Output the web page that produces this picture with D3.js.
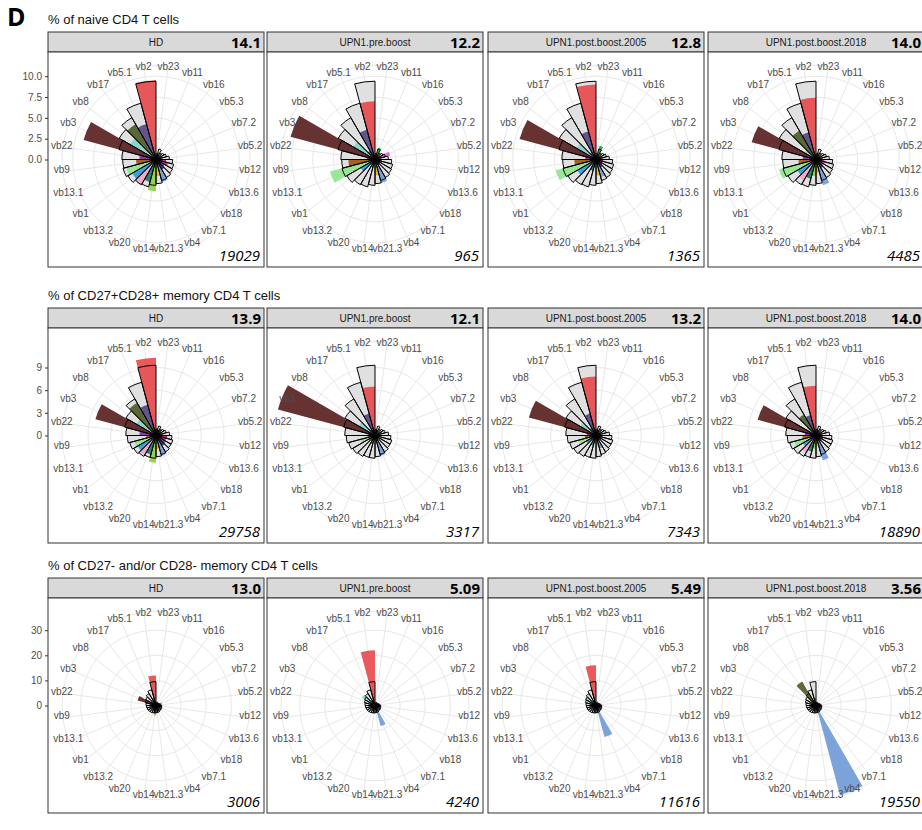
<html>
<head>
<title>TCR vb repertoire polar plots</title>
<style>
  body { margin: 0; background: #fff; }
  svg { display: block; }
</style>
</head>
<body>
<script src="https://d3js.org/d3.v7.min.js"></script>
<svg></svg>
<script>

// categories, clockwise from 12 o'clock
const cats = ["vb23","vb11","vb16","vb5.3","vb7.2","vb5.2","vb12","vb13.6","vb18","vb7.1","vb4","vb21.3",
              "vb14","vb20","vb13.2","vb1","vb13.1","vb9","vb22","vb3","vb8","vb17","vb5.1","vb2"];

const samples = ["HD","UPN1.pre.boost","UPN1.post.boost.2005","UPN1.post.boost.2018"];
const rowTitles = ["% of naive CD4 T cells","% of CD27+CD28+ memory CD4 T cells","% of CD27- and/or CD28- memory CD4 T cells"];

// row 1 : naive
const naiveRef  = [0.7,1.3,0.9,1.1,1.3,1.6,2.0,2.2,2.3,2.5,2.6,2.9,3.1,3.4,3.5,3.9,4.1,4.0,4.1,4.6,5.1,5.8,7.0,9.4];
const naiveHD   = [0.5,0.9,0.4,0.6,0.8,0.7,1.2,1.5,1.2,1.4,2.8,2.0,3.8,2.8,3.6,3.3,3.7,2.4,2.0,9.0,3.6,4.9,4.4,9.5];
const naivePre  = [0.4,1.5,0.3,0.5,1.9,0.6,0.8,0.9,0.7,0.8,2.9,1.9,0.6,1.0,0.5,2.0,5.6,3.2,1.0,10.5,3.0,1.2,3.7,7.0];
const naive2005 = [0.5,1.7,0.4,0.5,0.7,0.9,0.9,0.8,0.9,1.1,2.2,1.9,1.0,1.4,1.0,2.6,5.0,2.6,1.3,9.5,2.7,1.0,3.5,9.0];
const naive2018 = [0.4,0.9,0.5,0.6,0.5,0.8,1.0,1.1,1.0,1.2,3.2,1.6,2.0,2.4,2.9,2.6,4.6,2.1,1.6,8.0,1.6,4.0,3.4,7.4];

// row 2 : CD27+CD28+ memory
const dpRef  = [0.8,1.3,1.0,1.2,1.4,1.8,2.1,2.3,2.3,2.5,2.6,2.8,3.0,3.0,3.2,3.4,3.6,3.8,4.0,4.3,4.6,5.6,7.3,9.3];
const dpHD   = [1.0,0.8,0.9,0.7,0.8,1.0,1.5,1.4,1.5,1.6,2.8,1.8,3.6,2.6,3.0,2.8,3.0,1.3,2.2,8.3,3.0,5.0,4.2,10.3];
const dpPre  = [0.4,0.8,0.3,0.4,1.0,0.5,0.6,0.6,0.6,0.6,2.8,1.2,0.4,1.2,0.5,1.0,2.0,1.0,1.0,13.3,2.5,1.0,3.0,6.5];
const dp2005 = [0.5,0.8,0.4,0.5,0.7,0.7,0.8,0.7,0.8,0.7,1.8,1.4,0.8,1.4,0.8,1.5,2.4,1.5,1.2,9.2,2.4,1.2,3.0,7.8];
const dp2018 = [0.5,0.7,0.5,0.5,0.6,0.8,0.9,1.0,0.9,1.0,3.4,1.4,1.8,2.2,2.6,2.0,3.0,1.8,1.5,8.0,1.5,3.2,2.8,6.6];

// row 3 : CD27- and/or CD28- memory
const dnRef  = [0.9,1.4,1.1,1.3,1.6,2.0,2.3,2.4,2.5,2.6,2.8,2.9,3.0,3.1,3.3,3.5,3.6,3.8,4.0,4.4,4.8,5.5,6.5,9.5];
const dnHD   = [0.8,1.0,0.6,0.8,2.5,1.0,1.2,1.5,1.0,1.2,2.5,1.5,4.0,2.0,2.5,2.0,2.5,1.5,1.0,7.6,2.0,2.0,3.0,12.0];
const dnPre  = [0.5,1.0,0.5,0.6,1.2,0.6,0.8,0.8,0.7,1.0,8.5,1.5,1.0,1.2,0.8,1.2,1.5,1.0,0.8,2.0,6.0,1.5,2.5,22.0];
const dn2005 = [0.5,0.8,0.4,0.6,0.8,0.6,0.7,0.8,0.7,1.0,13.0,1.2,1.0,1.0,0.8,1.0,1.5,1.0,0.8,2.0,5.0,1.2,2.0,16.0];
const dn2018 = [0.3,0.5,0.3,0.4,0.5,0.4,0.5,0.6,0.5,0.8,37.0,0.8,0.8,0.8,0.6,0.8,1.0,0.8,0.6,1.2,1.0,11.0,1.0,3.0];

const stripValues = [["14.1","12.2","12.8","14.0"],["13.9","12.1","13.2","14.0"],["13.0","5.09","5.49","3.56"]];
const cellCounts  = [["19029","965","1365","4485"],["29758","3317","7343","18890"],["3006","4240","11616","19550"]];
const yTicks = [[0,2.5,5,7.5,10],[0,3,6,9],[0,10,20,30]];

const rows = [
  {ref: naiveRef, series: [naiveHD, naivePre, naive2005, naive2018]},
  {ref: dpRef,    series: [dpHD, dpPre, dp2005, dp2018]},
  {ref: dnRef,    series: [dnHD, dnPre, dn2005, dn2018]}
];

// fill colours per category (same order as cats)
const palette = ["#a6761d","#1b9e3a","#d95f02","#e7298a","#f062d8","#999933","#c2186b","#b0307a","#6a3d9a","#2b2b7a",
                 "#6f9ad6","#f0b400","#88d040","#127a6a","#f5a3c7","#1f9fe0","#8ee68a","#a0520a","#7e2ba8","#561c1c",
                 "#80d4cc","#4b5a26","#574583","#e8474a"];

const width = 922, height = 830;
const svg = d3.select("svg").attr("width", width).attr("height", height);
svg.append("rect").attr("width", width).attr("height", height).attr("fill", "#fff");

const panelX = [48, 267, 488, 708];
const panelW = 216, stripH = 20, plotH = 215;
const rowTop = [32, 308, 578];
const tickPx = [83.3, 68.0, 75.3];   // radius of the top tick per row

const theta = d3.scaleBand().domain(cats).range([0, 2 * Math.PI]).padding(0);
const color = d3.scaleOrdinal().domain(cats).range(palette);
const fontSans = "'Liberation Sans', Arial, sans-serif";

svg.append("text").attr("x", 7).attr("y", 26)
  .style("font-family", "'Open Sans', sans-serif").style("font-weight", "bold").style("font-size", "25px")
  .text("D");

rows.forEach(function(row, ri) {
  const top = rowTop[ri];
  const ticks = yTicks[ri];
  const r = d3.scaleLinear().domain([0, ticks[ticks.length - 1]]).range([0, tickPx[ri]]);

  svg.append("text").attr("x", 48).attr("y", top - 8)
    .style("font-family", fontSans).style("font-size", "13px").attr("fill", "#111")
    .text(rowTitles[ri]);

  samples.forEach(function(s, ci) {
    const x0 = panelX[ci];
    const g = svg.append("g").attr("transform", "translate(" + x0 + "," + top + ")");
    const cx = panelW / 2, cy = stripH + plotH / 2;

    // strip
    g.append("rect").attr("x", 0).attr("y", 0).attr("width", panelW).attr("height", stripH)
      .attr("fill", "#d9d9d9").attr("stroke", "#333").attr("stroke-width", 1);
    g.append("text").attr("x", cx).attr("y", 14).attr("text-anchor", "middle")
      .style("font-family", fontSans).style("font-size", "10px").attr("fill", "#1a1a1a").text(s);
    g.append("text").attr("x", panelW - 3).attr("y", 16).attr("text-anchor", "end")
      .style("font-family", "'Open Sans', sans-serif").style("font-weight", "bold").style("font-size", "15px")
      .attr("fill", "#000").text(stripValues[ri][ci]);

    // panel
    g.append("rect").attr("x", 0).attr("y", stripH).attr("width", panelW).attr("height", plotH)
      .attr("fill", "#fff");

    const p = g.append("g").attr("transform", "translate(" + cx + "," + cy + ")");
    const outerR = 94;

    // grid
    ticks.concat([null]).forEach(function(t) {
      p.append("circle").attr("r", t === null ? outerR : r(t))
        .attr("fill", "none").attr("stroke", "#e8e8e8").attr("stroke-width", 1);
    });
    cats.forEach(function(c) {
      const a = theta(c) + theta.bandwidth() / 2;
      p.append("line").attr("x1", 0).attr("y1", 0)
        .attr("x2", outerR * Math.sin(a)).attr("y2", -outerR * Math.cos(a))
        .attr("stroke", "#e8e8e8").attr("stroke-width", 1);
    });

    const arc = d3.arc().innerRadius(0)
      .startAngle(d => theta(d.c)).endAngle(d => theta(d.c) + theta.bandwidth())
      .outerRadius(d => r(d.v));

    const refData = cats.map((c, i) => ({c: c, v: row.ref[i]}));
    const serData = cats.map((c, i) => ({c: c, v: row.series[ci][i]}));

    p.selectAll(".refbar").data(refData).enter().append("path")
      .attr("class", "refbar").attr("d", arc).attr("fill", "#e0e0e0");

    p.selectAll(".bar").data(serData).enter().append("path")
      .attr("class", "bar").attr("d", arc)
      .attr("fill", d => color(d.c)).attr("fill-opacity", 0.9);

    p.selectAll(".refline").data(refData).enter().append("path")
      .attr("class", "refline").attr("d", arc)
      .attr("fill", "none").attr("stroke", "#000").attr("stroke-width", 1);

    // category labels
    cats.forEach(function(c) {
      const a = theta(c) + theta.bandwidth() / 2;
      p.append("text")
        .attr("x", 95 * Math.sin(a)).attr("y", -92 * Math.cos(a) - 2)
        .attr("text-anchor", "middle").attr("dy", "0.35em")
        .style("font-family", fontSans).style("font-size", "10px").attr("fill", "#4d4d4d")
        .text(c);
    });

    g.append("text").attr("x", panelW - 4).attr("y", stripH + plotH - 6).attr("text-anchor", "end")
      .style("font-family", "'Open Sans', sans-serif").style("font-style", "italic").style("font-size", "15px")
      .attr("fill", "#000").text(cellCounts[ri][ci]);

    g.append("rect").attr("x", 0).attr("y", stripH).attr("width", panelW).attr("height", plotH)
      .attr("fill", "none").attr("stroke", "#333").attr("stroke-width", 1);

    // y axis on the first panel
    if (ci === 0) {
      const yAx = d3.scaleLinear().domain(r.domain()).range([top + cy, top + cy - tickPx[ri]]);
      const fmt = ri === 0 ? d3.format(".1f") : d3.format("d");
      const ax = svg.append("g").attr("transform", "translate(" + x0 + ",0)")
        .call(d3.axisLeft(yAx).tickValues(ticks).tickFormat(fmt).tickSize(3));
      ax.select(".domain").remove();
      ax.selectAll("line").attr("stroke", "#333");
      ax.selectAll("text").attr("fill", "#4d4d4d")
        .style("font-family", fontSans).style("font-size", "10px");
    }
  });
});

</script>
</body>
</html>
